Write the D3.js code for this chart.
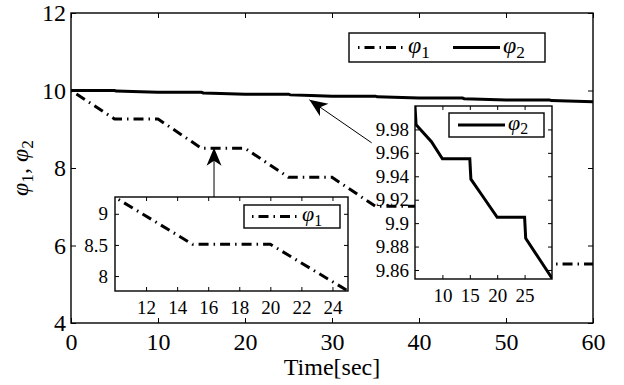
<!DOCTYPE html>
<html>
<head>
<meta charset="utf-8">
<script src="https://cdn.jsdelivr.net/npm/d3@7"></script>
<style>
  body { margin: 0; background: #fff; }
</style>
</head>
<body>
<svg id="chart" width="624" height="385"></svg>
<script>
// phi_1 : staircase with slopes (dash-dot)
const phi1Time  = [0, 5, 10, 15, 20, 25, 30, 35, 40, 45, 50, 55, 60];
const phi1Value = [10, 9.265, 9.265, 8.51, 8.51, 7.76, 7.76, 7.01, 7.01, 6.26, 6.26, 5.52, 5.52];

// phi_2 : slowly decreasing (solid)
const phi2Time  = [0, 5, 5.2, 8, 10, 15, 15.2, 17.2, 20, 25, 25.2, 27.6, 30,
                   35, 35.2, 40, 45, 45.2, 50, 55, 55.2, 60];
const phi2Value = [10, 10, 9.984, 9.9695, 9.955, 9.955, 9.9375, 9.924, 9.905, 9.905, 9.887, 9.87, 9.853,
                   9.853, 9.836, 9.805, 9.805, 9.788, 9.757, 9.757, 9.74, 9.71];

const mainXTicks = [0, 10, 20, 30, 40, 50, 60];
const mainYTicks = [4, 6, 8, 10, 12];
const inset1XTicks = [12, 14, 16, 18, 20, 22, 24];
const inset1YTicks = [8, 8.5, 9];
const inset2XTicks = [10, 15, 20, 25];
const inset2YTicks = [9.86, 9.88, 9.9, 9.92, 9.94, 9.96, 9.98];

// annotation arrows, in main-axes data units: [tail, tip]
const arrow1 = [[16.44, 7.25], [16.44, 8.52]];
const arrow2 = [[34.56, 8.65], [27.4, 9.76]];

const phi1 = phi1Time.map((t, i) => [t, phi1Value[i]]);
const phi2 = phi2Time.map((t, i) => [t, phi2Value[i]]);

const svg = d3.select("#chart");
const FONT = "'Liberation Serif', monospace";
const dashDot = "1.5,5,10,5";

function drawAxes(id, x, y, xt, yt, opt) {
    const g = svg.append("g");
    const [x0, x1] = x.range(), [y1, y0] = y.range();

    if (opt.fill) {
        g.append("rect")
            .attr("x", x0).attr("y", y0)
            .attr("width", x1 - x0).attr("height", y1 - y0)
            .attr("fill", "#fff");
    }

    g.append("clipPath").attr("id", id)
        .append("rect")
        .attr("x", x0).attr("y", y0)
        .attr("width", x1 - x0).attr("height", y1 - y0);

    const lines = g.append("g").attr("clip-path", "url(#" + id + ")");
    const line = d3.line().x(d => x(d[0])).y(d => y(d[1]));

    if (opt.showPhi1) {
        lines.append("path").datum(phi1)
            .attr("d", line).attr("fill", "none")
            .attr("stroke", "#000").attr("stroke-width", 3)
            .attr("stroke-dasharray", dashDot);
    }
    if (opt.showPhi2) {
        lines.append("path").datum(phi2)
            .attr("d", line).attr("fill", "none")
            .attr("stroke", "#000").attr("stroke-width", 3);
    }

    const fmt = d => String(d);
    const style = a => {
        a.attr("font-size", null).attr("font-family", null);
        a.select(".domain").remove();
        a.selectAll("line").attr("stroke-width", 1);
        a.selectAll("text")
            .style("font-family", FONT)
            .style("font-size", opt.fontSize + "px");
    };

    g.append("g").attr("transform", "translate(0," + y1 + ")")
        .call(d3.axisBottom(x).tickValues(xt).tickSize(-opt.tick).tickPadding(opt.padX).tickFormat(fmt))
        .call(style);
    g.append("g").attr("transform", "translate(0," + y0 + ")")
        .call(d3.axisTop(x).tickValues(xt).tickSize(-opt.tick).tickFormat(""))
        .call(style);
    g.append("g").attr("transform", "translate(" + x0 + ",0)")
        .call(d3.axisLeft(y).tickValues(yt).tickSize(-opt.tick).tickPadding(opt.padY).tickFormat(fmt))
        .call(style);
    g.append("g").attr("transform", "translate(" + x1 + ",0)")
        .call(d3.axisRight(y).tickValues(yt).tickSize(-opt.tick).tickFormat(""))
        .call(style);

    g.append("rect")
        .attr("x", x0).attr("y", y0)
        .attr("width", x1 - x0).attr("height", y1 - y0)
        .attr("fill", "none").attr("stroke", "#000").attr("stroke-width", 1.4);
    return g;
}

function phiLabel(sel, n, size) {
    sel.append("tspan").attr("font-style", "italic").text("φ");
    sel.append("tspan").attr("font-size", size * 0.72).attr("dy", size * 0.2).text(n);
}

function legend(items, box, size) {
    const g = svg.append("g");
    g.append("rect")
        .attr("x", box[0]).attr("y", box[1])
        .attr("width", box[2]).attr("height", box[3])
        .attr("fill", "#fff").attr("stroke", "#000").attr("stroke-width", 1.4);
    const cy = box[1] + box[3] / 2;
    items.forEach(it => {
        g.append("line")
            .attr("x1", it.x).attr("x2", it.x + 47)
            .attr("y1", cy).attr("y2", cy)
            .attr("stroke", "#000").attr("stroke-width", 3)
            .attr("stroke-dasharray", it.dash ? dashDot : null);
        const t = g.append("text")
            .attr("x", it.x + 50).attr("y", cy + size * 0.22)
            .style("font-family", FONT)
            .style("font-size", size + "px");
        phiLabel(t, it.n, size);
    });
}

// ---- main axes
const x = d3.scaleLinear().domain([0, 60]).range([71, 593]);
const y = d3.scaleLinear().domain([4, 12]).range([323, 13]);
drawAxes("clipMain", x, y, mainXTicks, mainYTicks,
    {fontSize: 24, tick: 5, padX: 10, padY: 5, showPhi1: true, showPhi2: true});

svg.append("text")
    .attr("x", 332).attr("y", 375)
    .attr("text-anchor", "middle")
    .style("font-family", FONT)
    .style("font-size", "24px")
    .text("Time[sec]");

const yl = svg.append("text")
    .attr("transform", "translate(28,168) rotate(-90)")
    .attr("text-anchor", "middle")
    .style("font-family", FONT)
    .style("font-size", "24px");
phiLabel(yl, "1", 24);
yl.append("tspan").attr("dy", -24 * 0.2).text(", ");
phiLabel(yl, "2", 24);

// ---- inset phi_1
const x1 = d3.scaleLinear().domain([10, 25]).range([115, 348]);
const y1 = d3.scaleLinear().domain([7.76, 9.27]).range([291, 197]);
drawAxes("clipIn1", x1, y1, inset1XTicks, inset1YTicks,
    {fontSize: 19, tick: 4, padX: 10, padY: 7, showPhi1: true, showPhi2: false, fill: true});

// ---- inset phi_2
const x2 = d3.scaleLinear().domain([5, 30]).range([415, 552]);
const y2 = d3.scaleLinear().domain([9.8523, 10.0]).range([279, 106]);
drawAxes("clipIn2", x2, y2, inset2XTicks, inset2YTicks,
    {fontSize: 19, tick: 4, padX: 10, padY: 6, showPhi1: false, showPhi2: true, fill: true});

// ---- arrows
function arrow(a) {
    const p0 = [x(a[0][0]), y(a[0][1])], p1 = [x(a[1][0]), y(a[1][1])];
    const ang = Math.atan2(p1[1] - p0[1], p1[0] - p0[0]) * 180 / Math.PI;
    svg.append("line")
        .attr("x1", p0[0]).attr("y1", p0[1])
        .attr("x2", p1[0]).attr("y2", p1[1])
        .attr("stroke", "#000").attr("stroke-width", 1);
    svg.append("path")
        .attr("transform", "translate(" + p1[0] + "," + p1[1] + ") rotate(" + ang + ")")
        .attr("d", "M0,0 L-18,-7.5 L-13,0 L-18,7.5 Z")
        .attr("fill", "#000");
}
arrow(arrow1);
arrow(arrow2);

// ---- legends
legend([{x: 358, n: "1", dash: true}, {x: 453, n: "2", dash: false}], [349, 33, 196, 29], 24);
legend([{x: 252, n: "1", dash: true}], [244, 205, 96, 23], 22);
legend([{x: 458, n: "2", dash: false}], [449, 113, 95, 24], 22);
</script>
</body>
</html>
